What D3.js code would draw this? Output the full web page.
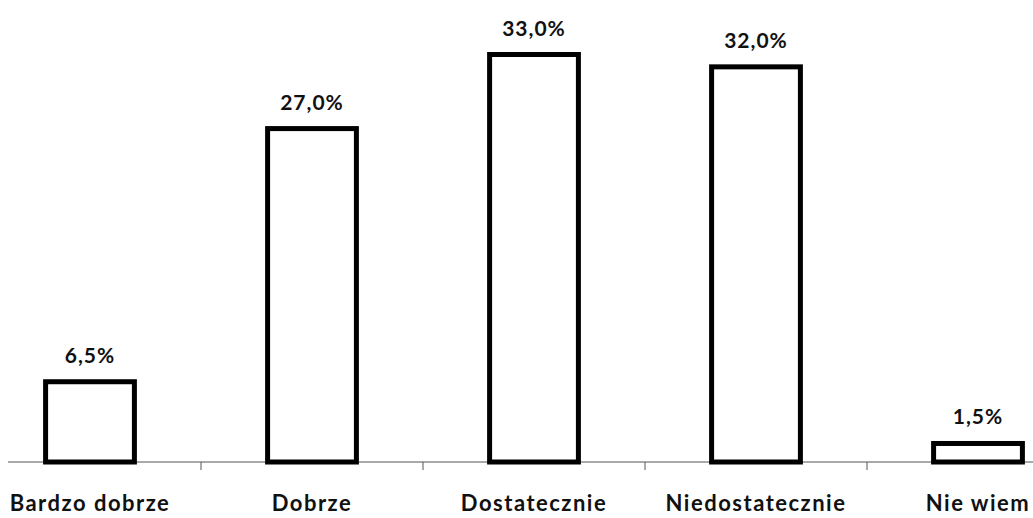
<!DOCTYPE html>
<html><head><meta charset="utf-8">
<script src="https://cdn.jsdelivr.net/npm/d3@7"></script>
<style>body{margin:0;background:#fff;} svg{display:block;}</style>
</head><body>
<script>
const categories = ["Bardzo dobrze", "Dobrze", "Dostatecznie", "Niedostatecznie", "Nie wiem"];
const values = [6.5, 27.0, 33.0, 32.0, 1.5];
const valueLabels = ["6,5%", "27,0%", "33,0%", "32,0%", "1,5%"];

const W = 1033, H = 518;
const svg = d3.select("body").append("svg").attr("width", W).attr("height", H);
const baseY = 462;
const x = d3.scaleBand().domain(categories).range([-21, 1089]).paddingInner(0.6).paddingOuter(0.3);
const y = d3.scaleLinear().domain([0, 33]).range([baseY, 54.5]);
const font = "Lato, 'Open Sans', sans-serif";

// axis line
svg.append("line").attr("x1", 8).attr("x2", W).attr("y1", baseY).attr("y2", baseY)
  .attr("stroke", "#555").attr("stroke-width", 1);
// ticks between categories
const bounds = categories.slice(1).map(c => x(c) - x.step() * x.paddingInner() / 2);
svg.selectAll("line.tick").data(bounds).enter().append("line").attr("class", "tick")
  .attr("x1", d => d).attr("x2", d => d).attr("y1", baseY).attr("y2", baseY + 8)
  .attr("stroke", "#555").attr("stroke-width", 1);

// bars
svg.selectAll("rect.bar").data(values).enter().append("rect").attr("class", "bar")
  .attr("x", (d, i) => x(categories[i]))
  .attr("width", x.bandwidth())
  .attr("y", d => y(d))
  .attr("height", d => baseY - y(d))
  .attr("fill", "#fff").attr("stroke", "#000").attr("stroke-width", 5);

// value labels
svg.selectAll("text.val").data(values).enter().append("text").attr("class", "val")
  .attr("x", (d, i) => x(categories[i]) + x.bandwidth() / 2)
  .attr("y", d => y(d) - 19)
  .attr("text-anchor", "middle")
  .attr("font-family", font).attr("font-size", 21).attr("font-weight", 700)
  .attr("letter-spacing", 1).attr("fill", "#111")
  .text((d, i) => valueLabels[i]);

// category labels
svg.selectAll("text.cat").data(categories).enter().append("text").attr("class", "cat")
  .attr("x", d => x(d) + x.bandwidth() / 2)
  .attr("y", 511)
  .attr("text-anchor", "middle")
  .attr("font-family", font).attr("font-size", 22).attr("font-weight", 700)
  .attr("letter-spacing", 1.5).attr("fill", "#111")
  .text(d => d);
</script>
</body></html>
